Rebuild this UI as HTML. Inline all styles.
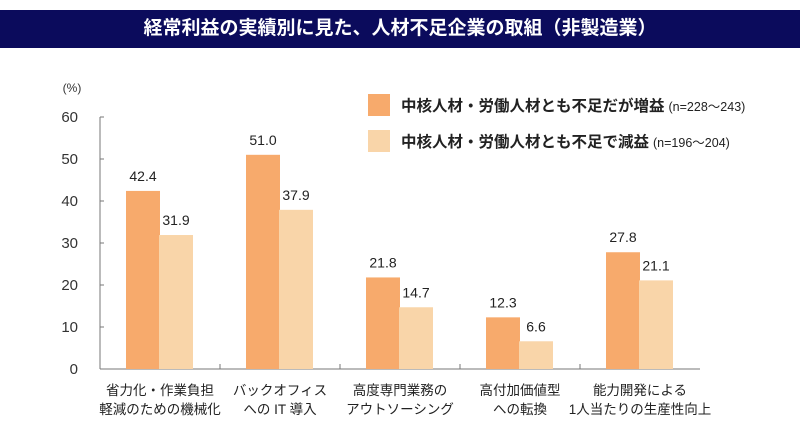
<!DOCTYPE html>
<html><head><meta charset="utf-8"><style>
body{margin:0;background:#fff;width:800px;height:429px;overflow:hidden;font-family:"Liberation Sans","Noto Sans CJK JP",sans-serif}
#title{position:absolute;left:0;top:10px;width:800px;height:38px;background:#0b0b5c;color:#fff;font-size:19px;font-weight:bold;text-align:center;line-height:38px}
</style></head><body>
<div id="title">経常利益の実績別に見た、人材不足企業の取組（非製造業）</div>
<svg id="chart" width="800" height="429" style="position:absolute;left:0;top:0" font-family="Liberation Sans, Noto Sans CJK JP, sans-serif"></svg>
<script>
const categories=[["省力化・作業負担","軽減のための機械化"],["バックオフィス","への IT 導入"],["高度専門業務の","アウトソーシング"],["高付加価値型","への転換"],["能力開発による","1人当たりの生産性向上"]];
const seriesIncrease=[42.4,51.0,21.8,12.3,27.8];
const seriesDecrease=[31.9,37.9,14.7,6.6,21.1];
const yTicks=[0,10,20,30,40,50,60];
const svg=document.getElementById('chart');const NS='http://www.w3.org/2000/svg';
function el(t,a,p){const e=document.createElementNS(NS,t);for(const k in a)e.setAttribute(k,a[k]);(p||svg).appendChild(e);return e;}
const x0=100,gw=120,y0=369,ppu=4.2;
const y=v=>y0-v*ppu;const gx=i=>x0+i*gw;
let a=el('line',{x1:x0,y1:y(60),x2:x0,y2:y0,stroke:'#777','stroke-width':1});

let b=el('line',{x1:x0,y1:y0,x2:x0+gw*categories.length,y2:y0,stroke:'#777','stroke-width':1});

yTicks.forEach(t=>{
 el('line',{x1:x0,y1:y(t),x2:x0+4,y2:y(t),stroke:'#777'});
 const tx=el('text',{x:78,y:y(t)+5,'text-anchor':'end','font-size':15,fill:'#333'});tx.textContent=t;
 
});
const u=el('text',{x:72,y:92,'text-anchor':'middle','font-size':12,fill:'#333'});u.textContent='(%)';

categories.forEach((c,i)=>{
 if(i>0)el('line',{x1:gx(i),y1:y0,x2:gx(i),y2:y0-5,stroke:'#777'});
 const cx=gx(i)+gw/2;
 [[seriesIncrease[i],cx-34,'#f7aa6c','bar-increase'],[seriesDecrease[i],cx-1,'#f9d5a9','bar-decrease']].forEach(([v,bx,col,nm])=>{
  const r=el('rect',{x:bx,y:y(v),width:34,height:v*ppu,fill:col});
  
  const t=el('text',{x:bx+17,y:y(v)-10,'text-anchor':'middle','font-size':14,fill:'#222'});t.textContent=v.toFixed(1);
  
 });
 c.forEach((ln,j)=>{const t=el('text',{x:cx,y:395+j*19,'text-anchor':'middle','font-size':13.5,fill:'#222'});t.textContent=ln;
  });
});
const legend=[['中核人材・労働人材とも不足だが増益','(n=228～243)','#f7aa6c',94],['中核人材・労働人材とも不足で減益','(n=196～204)','#f9d5a9',130]];
legend.forEach(([l,n,col,ly])=>{
 const r=el('rect',{x:368,y:ly,width:22,height:22,fill:col});
 const t=el('text',{x:401,y:ly+17,'font-size':15.5,'font-weight':'bold',fill:'#222'});t.textContent=l;
 
 const s=el('tspan',{'font-size':12.5,'font-weight':'normal',dx:4},t);s.textContent=n;
});
</script>
</body></html>
